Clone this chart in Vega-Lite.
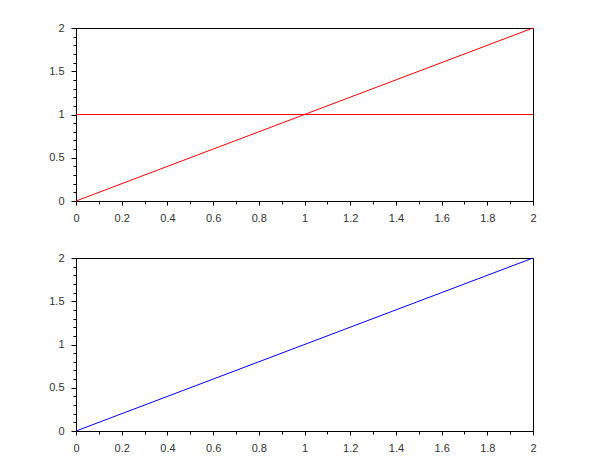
{
  "$schema": "https://vega.github.io/schema/vega-lite/v6.json",
  "autosize": {"type": "none"},
  "padding": {"left": 76, "top": 28, "right": 534, "bottom": 432},
  "background": "white",
  "bounds": "flush",
  "spacing": 57,
  "config": {
    "view": {"stroke": "black", "strokeWidth": 1},
    "axis": {
      "grid": false,
      "domainColor": "black",
      "tickColor": "black",
      "labelFont": "Liberation Sans",
      "labelFontSize": 11,
      "labelColor": "#333333",
      "format": "~g",
      "title": null
    }
  },
  "datasets": {
    "topDiag": [{"x": 0, "y": 0}, {"x": 2, "y": 2}],
    "topFlat": [{"x": 0, "y": 1}, {"x": 2, "y": 1}],
    "bottomDiag": [{"x": 0, "y": 0}, {"x": 2, "y": 2}]
  },
  "vconcat": [
    {
      "width": 457,
      "height": 173,
      "layer": [
        {
          "data": {"name": "topFlat"},
          "mark": {"type": "line", "color": "red", "strokeWidth": 1},
          "encoding": {
            "x": {"field": "x", "type": "quantitative", "scale": {"domain": [0, 2], "nice": false},
              "axis": {"orient": "bottom", "values": [0.1, 0.3, 0.5, 0.7, 0.9, 1.1, 1.3, 1.5, 1.7, 1.9], "labels": false, "tickSize": 3}},
            "y": {"field": "y", "type": "quantitative", "scale": {"domain": [0, 2], "nice": false},
              "axis": {"orient": "left", "values": [0.1, 0.2, 0.3, 0.4, 0.6, 0.7, 0.8, 0.9, 1.1, 1.2, 1.3, 1.4, 1.6, 1.7, 1.8, 1.9], "labels": false, "tickSize": 3}}
          }
        },
        {
          "data": {"name": "topDiag"},
          "mark": {"type": "line", "color": "red", "strokeWidth": 1},
          "encoding": {
            "x": {"field": "x", "type": "quantitative", "scale": {"domain": [0, 2], "nice": false},
              "axis": {"orient": "bottom", "values": [0, 0.2, 0.4, 0.6, 0.8, 1, 1.2, 1.4, 1.6, 1.8, 2], "format": "~g", "tickSize": 4, "labelPadding": 7, "labelFlush": false, "labelOverlap": false}},
            "y": {"field": "y", "type": "quantitative", "scale": {"domain": [0, 2], "nice": false},
              "axis": {"orient": "left", "values": [0, 0.5, 1, 1.5, 2], "format": "~g", "tickSize": 5, "labelPadding": 7, "labelFlush": false, "labelOverlap": false}}
          }
        }
      ],
      "resolve": {"axis": {"x": "independent", "y": "independent"}}
    },
    {
      "width": 457,
      "height": 173,
      "layer": [
        {
          "data": {"name": "bottomDiag"},
          "mark": {"type": "line", "color": "blue", "strokeWidth": 1},
          "encoding": {
            "x": {"field": "x", "type": "quantitative", "scale": {"domain": [0, 2], "nice": false},
              "axis": {"orient": "bottom", "values": [0.1, 0.3, 0.5, 0.7, 0.9, 1.1, 1.3, 1.5, 1.7, 1.9], "labels": false, "tickSize": 3}},
            "y": {"field": "y", "type": "quantitative", "scale": {"domain": [0, 2], "nice": false},
              "axis": {"orient": "left", "values": [0.1, 0.2, 0.3, 0.4, 0.6, 0.7, 0.8, 0.9, 1.1, 1.2, 1.3, 1.4, 1.6, 1.7, 1.8, 1.9], "labels": false, "tickSize": 3}}
          }
        },
        {
          "data": {"name": "bottomDiag"},
          "mark": {"type": "line", "color": "blue", "strokeWidth": 1, "strokeOpacity": 0},
          "encoding": {
            "x": {"field": "x", "type": "quantitative", "scale": {"domain": [0, 2], "nice": false},
              "axis": {"orient": "bottom", "values": [0, 0.2, 0.4, 0.6, 0.8, 1, 1.2, 1.4, 1.6, 1.8, 2], "format": "~g", "tickSize": 4, "labelPadding": 7, "labelFlush": false, "labelOverlap": false}},
            "y": {"field": "y", "type": "quantitative", "scale": {"domain": [0, 2], "nice": false},
              "axis": {"orient": "left", "values": [0, 0.5, 1, 1.5, 2], "format": "~g", "tickSize": 5, "labelPadding": 7, "labelFlush": false, "labelOverlap": false}}
          }
        }
      ],
      "resolve": {"axis": {"x": "independent", "y": "independent"}}
    }
  ]
}
